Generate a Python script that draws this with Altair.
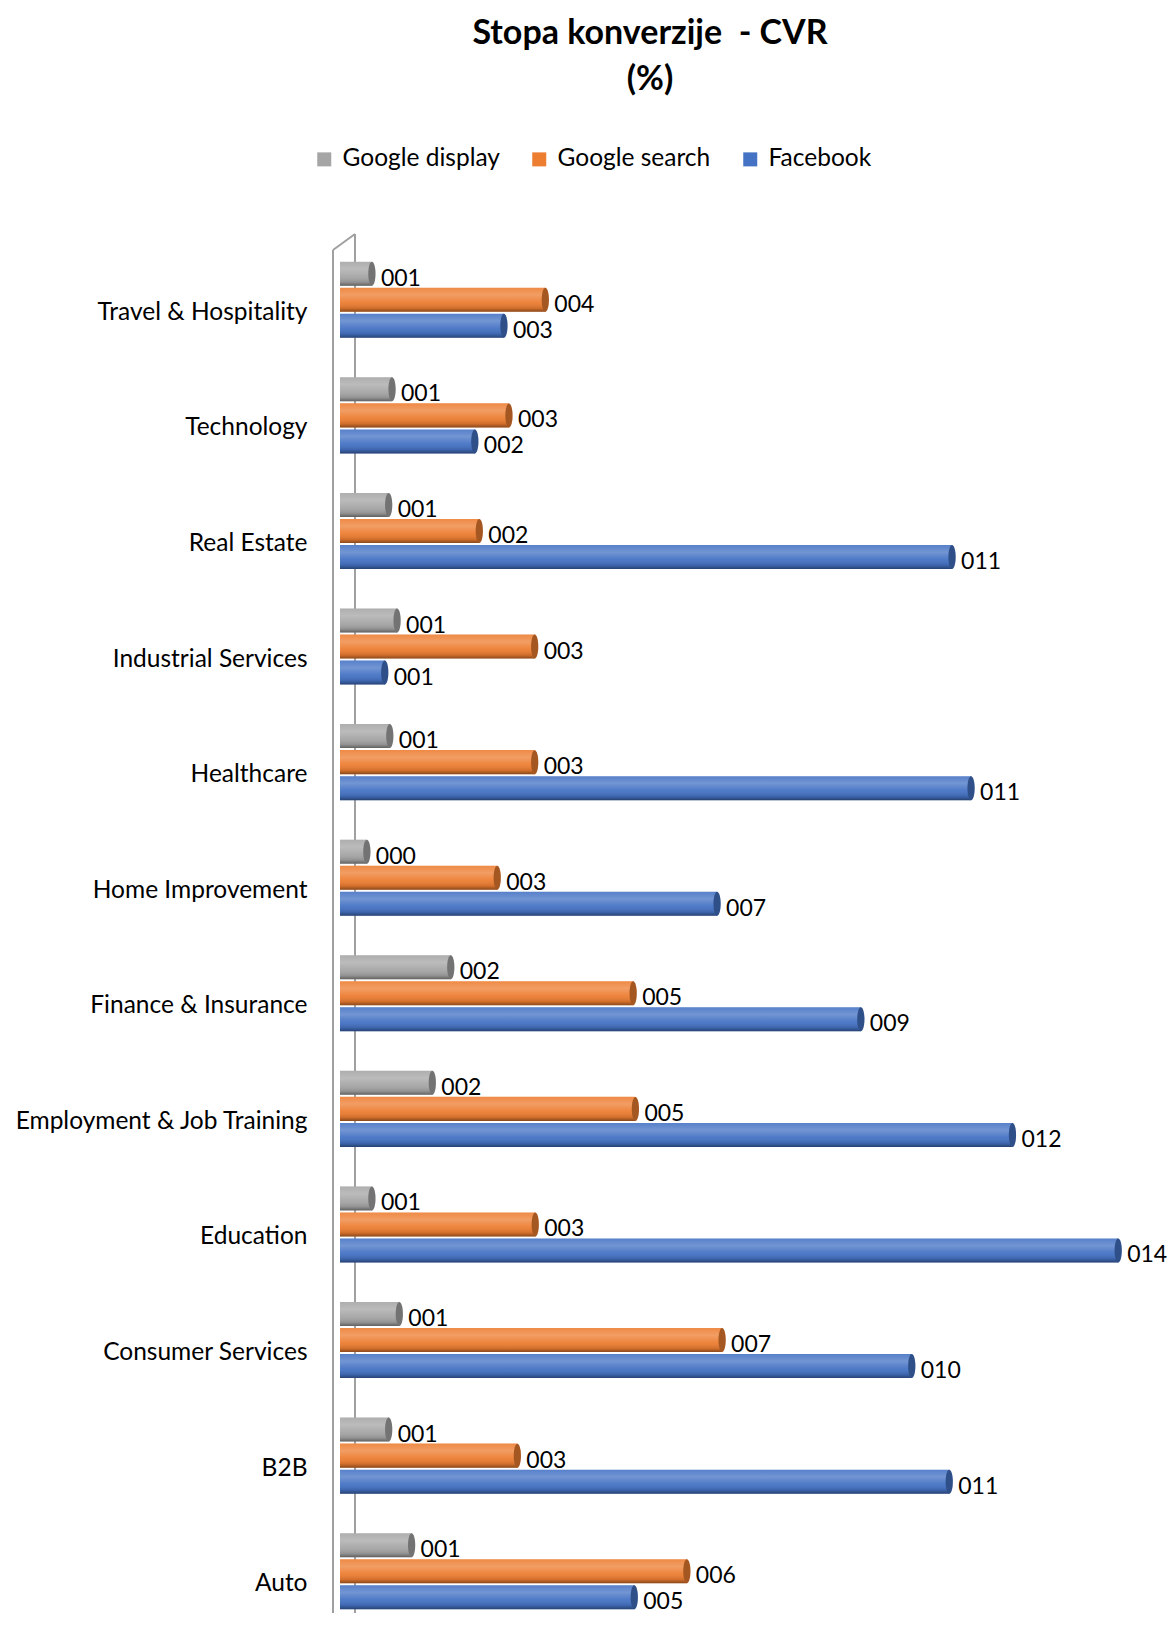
import altair as alt
import pandas as pd

categories = ["Travel & Hospitality", "Technology", "Real Estate", "Industrial Services",
              "Healthcare", "Home Improvement", "Finance & Insurance",
              "Employment & Job Training", "Education", "Consumer Services", "B2B", "Auto"]
series = ["Google display", "Google search", "Facebook"]
google_display = [0.57, 0.93, 0.87, 1.02, 0.89, 0.48, 1.98, 1.65, 0.57, 1.06, 0.87, 1.28]
google_search = [3.67, 3.02, 2.49, 3.48, 3.48, 2.81, 5.24, 5.28, 3.49, 6.83, 3.17, 6.20]
facebook = [2.93, 2.41, 10.94, 0.80, 11.28, 6.74, 9.31, 12.02, 13.91, 10.22, 10.89, 5.26]
colors = ["#A5A5A5", "#ED7D31", "#4472C4"]

rows = []
for i, c in enumerate(categories):
    for s, vals in zip(series, [google_display, google_search, facebook]):
        rows.append({"category": c, "series": s, "value": vals[i]})
df = pd.DataFrame(rows)

FONT = "Lato"
W, H = 814, 1371

y = alt.Y("category:N", sort=categories,
          scale=alt.Scale(range=[0, 1387], paddingInner=0, paddingOuter=0),
          axis=alt.Axis(title=None, domain=False, ticks=False, labelFontSize=24.5,
                        labelFont=FONT, labelColor="black", labelPadding=33,
                        labelOffset=13, labelLimit=400))
yoff = alt.YOffset("series:N", sort=series,
                   scale=alt.Scale(domain=series, paddingInner=0.077, paddingOuter=0.76))
x = alt.X("value:Q", scale=alt.Scale(domain=[0, 14.55], nice=False, zero=True), axis=None)
color = alt.Color("series:N", sort=series,
                  scale=alt.Scale(domain=series, range=colors),
                  legend=alt.Legend(title=None, orient="none", legendX=-28, legendY=-95,
                                    direction="horizontal", symbolType="square",
                                    symbolSize=196, symbolStrokeWidth=0,
                                    labelFontSize=24.5, labelFont=FONT, labelColor="black",
                                    columnPadding=27, labelOffset=6))

base = alt.Chart(df)

shade_grad = alt.Gradient(
    gradient="linear", x1=0, x2=0, y1=0, y2=1,
    stops=[alt.GradientStop(offset=0, color="rgba(255,255,255,0.10)"),
           alt.GradientStop(offset=0.3, color="rgba(255,255,255,0.25)"),
           alt.GradientStop(offset=0.6, color="rgba(255,255,255,0.06)"),
           alt.GradientStop(offset=0.85, color="rgba(0,0,0,0.12)"),
           alt.GradientStop(offset=1, color="rgba(0,0,0,0.42)")])

ellipse = "M0,-1 A0.3,1 0 1,1 0,1 A0.3,1 0 1,1 0,-1 Z"

bars = base.mark_bar().encode(x=x, y=y, yOffset=yoff, color=color)
shade = base.mark_bar(color=shade_grad).encode(x=x, y=y, yOffset=yoff)
cap = base.mark_point(shape=ellipse, filled=True, size=576, opacity=1).encode(
    x=x, y=y, yOffset=yoff, color=color)
capshade = base.mark_point(shape=ellipse, filled=True, size=576, color="black",
                           opacity=0.3).encode(x=x, y=y, yOffset=yoff)
labels = base.mark_text(align="left", baseline="middle", dx=9, dy=5, fontSize=23,
                        font=FONT, color="black").encode(
    x=x, y=y, yOffset=yoff, text=alt.Text("value:Q", format="03.0f"))

one = alt.Data(values=[{"a": 1}])
wall_col = "#A0A0A0"
inner = alt.Chart(one).mark_rule(color=wall_col, strokeWidth=2).encode(
    x=alt.value(15), y=alt.value(-8), y2=alt.value(1372))
outer = alt.Chart(one).mark_rule(color=wall_col, strokeWidth=2).encode(
    x=alt.value(-7), y=alt.value(8), y2=alt.value(1400))
top_slant = alt.Chart(one).mark_rule(color=wall_col, strokeWidth=2).encode(
    x=alt.value(-7), y=alt.value(8), x2=alt.value(15), y2=alt.value(-8))
bot_slant = alt.Chart(one).mark_rule(color=wall_col, strokeWidth=2).encode(
    x=alt.value(15), y=alt.value(1372), x2=alt.value(-7), y2=alt.value(1388))

chart = alt.layer(inner, outer, top_slant, bot_slant, bars, shade, cap, capshade, labels).properties(
    width=W, height=H,
    background="white",
    autosize=alt.AutoSizeParams(type="none"),
    padding={"left": 332, "top": 234, "right": 14, "bottom": 0},
    title=alt.Title(text=["Stopa konverzije\u00a0\u00a0- CVR", "(%)"], fontSize=34, font=FONT,
                    fontWeight="bold", anchor="middle", frame="group", dx=-97,
                    color="black", lineHeight=46, offset=50),
).configure_view(strokeWidth=0, stroke="transparent")

chart.save("out.html", embed_options={"renderer": "svg", "actions": False})
